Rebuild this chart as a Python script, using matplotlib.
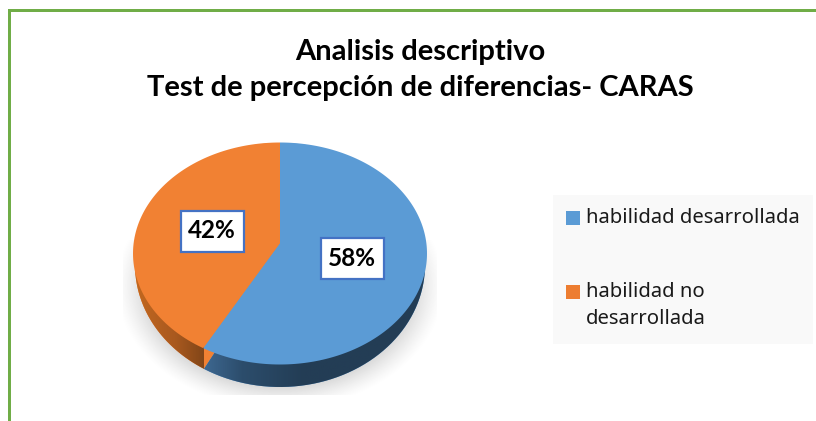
import numpy as np
import matplotlib
matplotlib.use("Agg")
import matplotlib.pyplot as plt
from matplotlib.patches import Rectangle
from matplotlib.path import Path
from matplotlib.transforms import Transform

title_lines = ["Analisis descriptivo", "Test de percepción de diferencias- CARAS"]
categories = ["habilidad desarrollada", "habilidad no\ndesarrollada"]
values = [58, 42]
value_labels = ["58%", "42%"]
top_colors = ["#5B9BD5", "#F18133"]
legend_colors = ["#5B9BD5", "#ED7D31"]


class TiltedDisc(Transform):
    """Projects the unit pie disc to pixel coordinates, seen in perspective."""
    input_dims = output_dims = 2
    is_affine = False
    has_inverse = False

    def __init__(self, cx, cy, a, b, apex):
        super().__init__()
        self.cx, self.cy, self.b, self.apex = cx, cy, b, apex
        self.k = apex / b
        self.r = a * np.sqrt(1 - self.k ** 2)

    def transform_non_affine(self, values):
        p = np.asarray(values, float)
        u, v = p[:, 0], p[:, 1]
        w = 1 + self.k * v
        return np.column_stack([self.cx + self.r * u / w,
                                self.cy - (self.b * v + self.apex) / w])

    def transform_path_non_affine(self, path):
        pts = []
        for curve, code in path.iter_bezier():
            if code == Path.MOVETO:
                pts.append(curve.control_points)
            else:
                pts.append(curve(np.linspace(0, 1, 24)))
        return Path(self.transform_non_affine(np.vstack(pts)))


fig = plt.figure(figsize=(8.16, 4.21), dpi=100, facecolor="white")
ax = fig.add_axes([0, 0, 1, 1])

# side of the pie: the same pie, lower and shaded
low_wedges, _ = ax.pie(values, startangle=90, counterclock=False, colors=top_colors)
top_wedges, _ = ax.pie(values, startangle=90, counterclock=False, colors=top_colors)
ax.set_aspect("auto")
ax.set_xlim(0, 816)
ax.set_ylim(421, 0)
ax.axis("off")

low_tf = TiltedDisc(280, 265, 145, 122, 12)
top_tf = TiltedDisc(280, 253.5, 147, 111, 10.5)
for w in low_wedges:
    w.set_transform(low_tf + ax.transData)
    w.set_zorder(2)
for w in top_wedges:
    w.set_transform(top_tf + ax.transData)
    w.set_zorder(4)


def shade(wedge, stops, x0, x1):
    xs = np.linspace(0, 1, 128)
    pos = [s[0] for s in stops]
    rgb = np.array([matplotlib.colors.to_rgb(s[1]) for s in stops])
    img = np.stack([np.interp(xs, pos, rgb[:, i]) for i in range(3)], axis=-1)[None, :, :]
    im = ax.imshow(img, extent=(x0, x1, 395, 240), aspect="auto", zorder=3)
    im.set_clip_path(wedge)


shade(low_wedges[0], [(0, "#3F6A94"), (0.18, "#2C4D6C"), (0.45, "#233D55"), (1, "#233D55")], 200, 430)
shade(low_wedges[1], [(0, "#C4691F"), (0.6, "#A9591F"), (1, "#824618")], 132, 204)

# soft shadow under the pie, cut off as in the reference
yy, xx = np.mgrid[240:395:156j, 123:437:315j]
dist = np.sqrt(((xx - 280) / 165) ** 2 + ((yy - 285) / 125) ** 2)
alpha = np.clip((1.0 - dist) / 0.22, 0, 1) ** 1.3 * 0.42
shadow = np.dstack([np.full_like(xx, 0.55)] * 3 + [alpha])
ax.imshow(shadow, extent=(123, 437, 395, 240), aspect="auto", zorder=1)
ax.set_xlim(0, 816)
ax.set_ylim(421, 0)

# value labels
for text, (x, y) in zip(value_labels, [(352, 258), (212, 231)]):
    ax.add_patch(Rectangle((x - 31.5, y - 20.5), 63, 41, fc="white", ec="#4472C4", lw=1.6, zorder=5))
    ax.text(x, y, text, ha="center", va="center", fontsize=17.5, fontweight="bold",
            family="Lato", color="black", zorder=6)

# legend
ax.add_patch(Rectangle((553, 195), 260, 149, fc="#F9F9F9", ec="none", zorder=1))
for label, color, y in zip(categories, legend_colors, [218, 292]):
    ax.add_patch(Rectangle((566, y - 7), 14, 14, fc=color, ec="none", zorder=2))
    ax.text(586, y - 10, label, ha="left", va="top", fontsize=14.6, family="Noto Sans",
            color="#1A1A1A", linespacing=1.5, zorder=2)

# title
ax.text(420, 52, title_lines[0], ha="center", va="center", fontsize=21, fontweight="bold",
        family="Lato", color="black")
ax.text(420, 88, title_lines[1], ha="center", va="center", fontsize=21, fontweight="bold",
        family="Lato", color="black")

# frame (top and left only are visible)
ax.add_patch(Rectangle((8, 8.5), 808, 3, fc="#70AD47", ec="none", zorder=7))
ax.add_patch(Rectangle((8, 8.5), 3, 413, fc="#70AD47", ec="none", zorder=7))

fig.savefig("out.png", dpi=100, facecolor="white")
